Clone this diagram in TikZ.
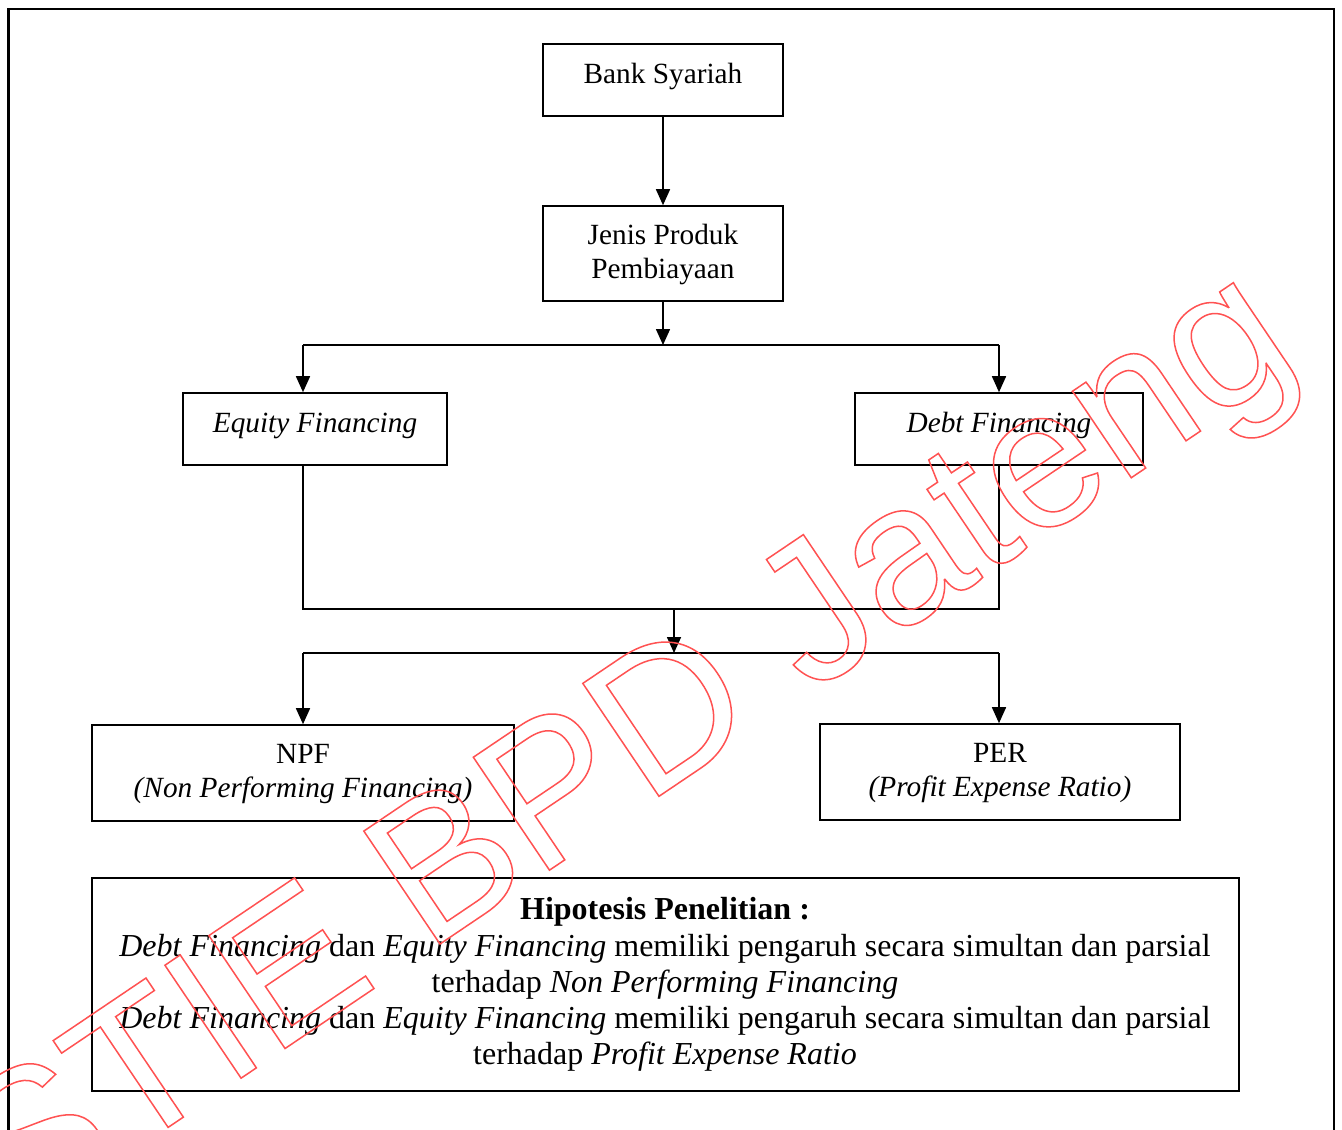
\documentclass[tikz,border=0pt]{standalone}
\usepackage{fontspec}
\setmainfont{Liberation Serif}
\newfontfamily\wmfont{Liberation Sans}
\usetikzlibrary{arrows.meta}
\definecolor{wmred}{rgb}{1,0.32,0.32}
\newcommand\outlinetext[1]{\special{pdf:literal direct 1 Tr 1.5 w}#1\special{pdf:literal direct 0 Tr}}
\tikzset{
  box/.style={draw, line width=1.6pt, inner sep=0pt},
  txt/.style={anchor=base, inner sep=0pt, font=\fontsize{29.3}{34}\selectfont},
  htxt/.style={anchor=base, inner sep=0pt, font=\fontsize{32}{36}\selectfont},
  conn/.style={line width=1.6pt},
  arr/.style={line width=1.6pt, -{Triangle[width=14pt,length=16pt]}},
}
\begin{document}
\begin{tikzpicture}[x=1pt,y=-1pt]
\useasboundingbox (0,0) rectangle (1342,1130);
\fill[white] (0,0) rectangle (1342,1130);
% outer frame
\draw[line width=2.4pt] (8.5,1140) -- (8.5,9) -- (1334,9) -- (1334,1140);
% boxes
\node[box, minimum width=240pt, minimum height=72pt] (bank) at (663,80) {};
\node[box, minimum width=240pt, minimum height=95pt] (jenis) at (663,253.5) {};
\node[box, minimum width=264pt, minimum height=72pt] (equity) at (315,429) {};
\node[box, minimum width=288pt, minimum height=72pt] (debt) at (999,429) {};
\node[box, minimum width=422pt, minimum height=96pt] (npf) at (303,773) {};
\node[box, minimum width=360pt, minimum height=96pt] (per) at (1000,772) {};
\node[box, minimum width=1147pt, minimum height=213pt] (hyp) at (665.5,984.5) {};
% texts
\node[txt] (t1) at (663,83) {Bank Syariah};
\node[txt] (t2a) at (663,244) {Jenis Produk};
\node[txt] (t2b) at (663,278) {Pembiayaan};
\node[txt] (t3) at (315,432) {\itshape Equity Financing};
\node[txt] (t4) at (999,432) {\itshape Debt Financing};
\node[txt] (t5a) at (303,763) {NPF};
\node[txt] (t5b) at (303,797) {\itshape (Non Performing Financing)};
\node[txt] (t6a) at (1000,762) {PER};
\node[txt] (t6b) at (1000,796) {\itshape (Profit Expense Ratio)};
\node[htxt] (h1) at (665,919) {\bfseries Hipotesis Penelitian :};
\node[htxt] (h2) at (665,956) {\itshape Debt Financing\upshape{} dan \itshape Equity Financing\upshape{} memiliki pengaruh secara simultan dan parsial};
\node[htxt] (h3) at (665,992) {terhadap \itshape Non Performing Financing};
\node[htxt] (h4) at (665,1028) {\itshape Debt Financing\upshape{} dan \itshape Equity Financing\upshape{} memiliki pengaruh secara simultan dan parsial};
\node[htxt] (h5) at (665,1064) {terhadap \itshape Profit Expense Ratio};
% connectors
\coordinate (b1) at (663,345);
\coordinate (b1L) at (303,345);
\coordinate (b1R) at (999,345);
\coordinate (m1) at (303,609);
\coordinate (m2) at (999,609);
\coordinate (m0) at (674,609);
\coordinate (b2) at (674,653);
\coordinate (b2L) at (303,653);
\coordinate (b2R) at (999,653);
\draw[arr] (bank) -- (jenis);
\draw[arr] (jenis) -- (b1);
\draw[conn] (b1L) -- (b1R);
\draw[arr] (b1L) -- (b1L |- equity.north);
\draw[arr] (b1R) -- (debt.north);
\draw[conn] (equity.south -| m1) -- (m1) -- (m2) -- (debt.south);
\draw[arr] (m0) -- (b2);
\draw[conn] (b2L) -- (b2R);
\draw[arr] (b2L) -- (npf.north);
\draw[arr] (b2R) -- (b2R |- per.north);
% watermark
\node[anchor=base west, inner sep=0pt, rotate=34, text=wmred, font=\wmfont\fontsize{198}{198}\selectfont] (wm) at (16,1230) {\outlinetext{STIE BPD Jateng}};
\end{tikzpicture}
\end{document}
